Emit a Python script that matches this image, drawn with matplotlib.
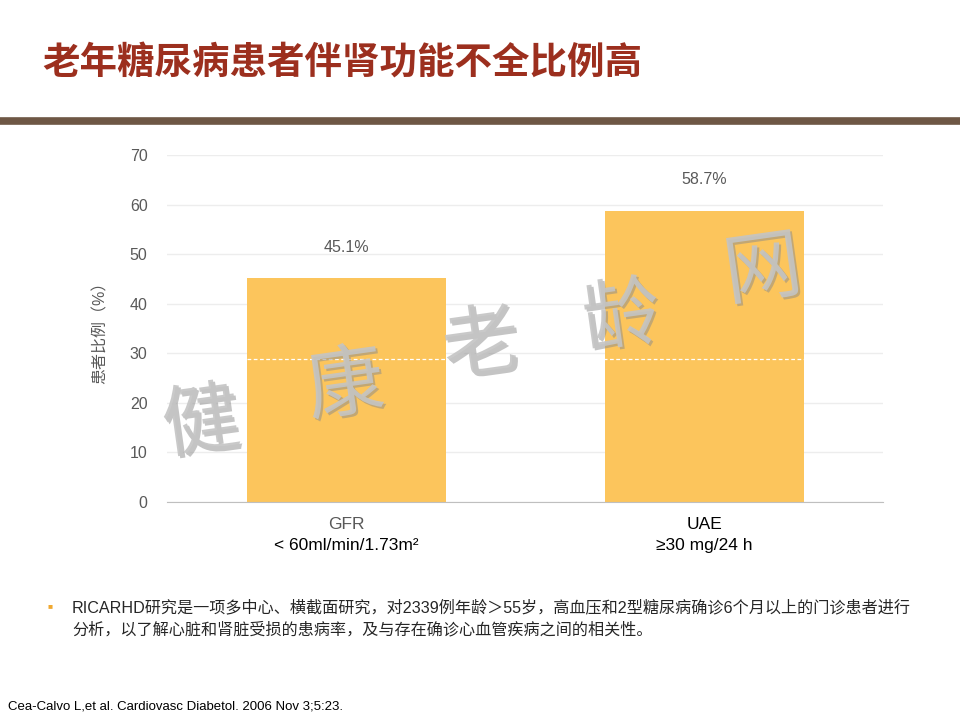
#!/usr/bin/env python
"""Bar chart: share of elderly diabetes patients with impaired kidney function."""
import matplotlib.pyplot as plt
import matplotlib.patheffects as pe
import numpy as np

plt.rcParams['font.family'] = ['Liberation Sans', 'Noto Sans CJK SC', 'DejaVu Sans']

TITLE = '老年糖尿病患者伴肾功能不全比例高'
categories = ['GFR', 'UAE']
conditions = ['< 60ml/min/1.73m²', '≥30 mg/24 h']
values = [45.1, 58.7]
ylabel = '患者比例（%）'
yticks = [0, 10, 20, 30, 40, 50, 60, 70]
note_lines = [
    'RICARHD研究是一项多中心、横截面研究，对2339例年龄＞55岁，高血压和2型糖尿病确诊6个月以上的门诊患者进行',
    '分析，以了解心脏和肾脏受损的患病率，及与存在确诊心血管疾病之间的相关性。',
]
reference = 'Cea-Calvo L,et al. Cardiovasc Diabetol. 2006 Nov 3;5:23.'
watermark = ['健', '康', '老', '龄', '网']
dash_level = 28.8

BAR_COLOR = '#FCC55C'
GREY = '#595959'
TITLE_COLOR = '#9C2F1E'
RULE_COLOR = '#6E5745'
BAR_WIDTH = 0.556

fig = plt.figure(figsize=(9.6, 7.2), dpi=100)
fig.patch.set_facecolor('white')

# Title and rule under it.
fig.text(0.044, 0.912, TITLE, fontsize=27, fontweight='bold',
         color=TITLE_COLOR, family=['Noto Sans CJK SC'], va='center')
fig.add_artist(plt.Line2D([0, 1], [0.832, 0.832], color=RULE_COLOR, lw=5.5,
                          transform=fig.transFigure))

ax = fig.add_axes([0.174, 0.3028, 0.746, 0.4819])
x = np.arange(len(categories))
bars = ax.bar(x, values, width=BAR_WIDTH, color=BAR_COLOR, zorder=2)
ax.bar_label(bars, labels=['%.1f%%' % v for v in values], padding=17,
             fontsize=11.5, color=GREY)

ax.hlines(dash_level, x[0] - BAR_WIDTH / 2, x[-1] + BAR_WIDTH / 2,
          colors='white', linestyles=(0, (3, 2)), lw=0.9, zorder=3)

ax.set_xlim(-0.5, 1.5)
ax.set_ylim(0, 70)
ax.set_yticks(yticks)
ax.yaxis.grid(True, color='#EDEDED', lw=1, zorder=0)
ax.set_axisbelow(True)
for s in ['top', 'right', 'left']:
    ax.spines[s].set_visible(False)
ax.spines['bottom'].set_color('#BFBFBF')
ax.tick_params(axis='y', length=0, pad=14, labelsize=11.5, labelcolor=GREY)
ax.tick_params(axis='x', length=0, pad=11, labelsize=12.5)
ax.set_xticks(x)
ax.set_xticklabels(categories)
ax.get_xticklabels()[0].set_color(GREY)
ax.get_xticklabels()[1].set_color('black')
for xi, cond in zip(x, conditions):
    ax.annotate(cond, xy=(xi, 0), xycoords=('data', 'axes fraction'),
                xytext=(0, -26), textcoords='offset points',
                ha='center', va='top', fontsize=12.5, color='black')
ax.set_ylabel(ylabel, fontsize=11.5, color=GREY, labelpad=16)

# Watermark.
wm_pos = [(0.210, 0.410), (0.360, 0.462), (0.502, 0.518), (0.648, 0.556), (0.795, 0.622)]
for ch, (wx, wy) in zip(watermark, wm_pos):
    fig.text(wx, wy, ch, fontsize=56, color='#C4C4C4', alpha=0.9,
             family=['Noto Sans CJK SC'], fontweight='light',
             ha='center', va='center', rotation=8, zorder=10,
             path_effects=[pe.withSimplePatchShadow(offset=(1.5, -1.5),
                                                    shadow_rgbFace='#8a8a8a',
                                                    alpha=0.5)])

# Bullet note.
fig.text(0.050, 0.157, '■', fontsize=6, color='#F0A830', va='center')
fig.text(0.075, 0.157, note_lines[0], fontsize=11.6, color='#262626', va='center')
fig.text(0.075, 0.125, note_lines[1], fontsize=11.6, color='#262626', va='center')

fig.text(0.008, 0.019, reference, fontsize=9.5, color='black', va='center')

plt.savefig('out.png', dpi=100)
